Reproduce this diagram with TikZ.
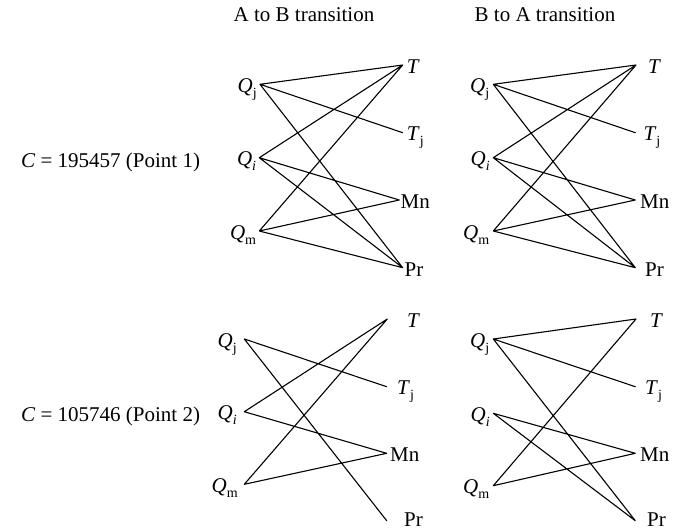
\documentclass[tikz,border=0pt]{standalone}
\usepackage{fontspec}
\setmainfont{Liberation Serif}
\newcommand\sbx[1]{\raisebox{-0.25em}{\fontsize{14}{14}\selectfont #1}}
\tikzset{
  txt/.style={inner sep=0pt, font=\fontsize{21}{25}\selectfont},
  rlbl/.style={txt, anchor=base west},
  qlbl/.style={txt, anchor=base east},
  hdr/.style={txt, anchor=base},
  rowlbl/.style={txt, anchor=base west},
  edge/.style={line width=1.1pt, line cap=round}
}
\begin{document}
\begin{tikzpicture}[x=1pt,y=-1pt]
\useasboundingbox (0,0) rectangle (673,530);
% headers
\node[hdr] (h1) at (304,21) {A to B transition};
\node[hdr] (h2) at (545,21) {B to A transition};
\node[rowlbl] (r1) at (21,167) {\textit{C} = 195457 (Point 1)};
\node[rowlbl] (r2) at (21,421) {\textit{C} = 105746 (Point 2)};
% ---------- panel a (top-left)
\coordinate (aQj) at (260,84.3);
\coordinate (aQi) at (259.3,157.7);
\coordinate (aQm) at (259.3,231);
\coordinate (aT)  at (402.7,65);
\coordinate (aTj) at (402.7,132.7);
\coordinate (aMn) at (399.3,200);
\coordinate (aPr) at (402.7,267.7);
\node[qlbl] (aQjL) at (257,92.3) {\textit{Q}\sbx{j}};
\node[qlbl] (aQiL) at (256.3,165.7) {\textit{Q}\sbx{\textit{i}}};
\node[qlbl] (aQmL) at (256.3,239) {\textit{Q}\sbx{m}};
\node[rlbl] (aTL)  at (406.7,73) {\textit{T}};
\node[rlbl] (aTjL) at (406.7,140.7) {\textit{T}\sbx{j}};
\node[rlbl] (aMnL) at (400.5,208) {Mn};
\node[rlbl] (aPrL) at (404.5,276) {Pr};
\draw[edge] (aQj) -- (aT) (aQj) -- (aTj) (aQj) -- (aPr)
            (aQi) -- (aT) (aQi) -- (aMn) (aQi) -- (aPr)
            (aQm) -- (aT) (aQm) -- (aMn) (aQm) -- (aPr);
% ---------- panel b (top-right)
\coordinate (bQj) at (493.3,84.3);
\coordinate (bQi) at (493.3,157.7);
\coordinate (bQm) at (493.3,231);
\coordinate (bT)  at (636,65);
\coordinate (bTj) at (635.3,132.7);
\coordinate (bMn) at (635.3,200);
\coordinate (bPr) at (635.3,267.7);
\node[qlbl] (bQjL) at (489.5,92.3) {\textit{Q}\sbx{j}};
\node[qlbl] (bQiL) at (490,165.7) {\textit{Q}\sbx{\textit{i}}};
\node[qlbl] (bQmL) at (489.5,239) {\textit{Q}\sbx{m}};
\node[rlbl] (bTL)  at (648,73) {\textit{T}};
\node[rlbl] (bTjL) at (643.3,140.7) {\textit{T}\sbx{j}};
\node[rlbl] (bMnL) at (640,208) {Mn};
\node[rlbl] (bPrL) at (645,276) {Pr};
\draw[edge] (bQj) -- (bT) (bQj) -- (bTj) (bQj) -- (bPr)
            (bQi) -- (bT) (bQi) -- (bMn) (bQi) -- (bPr)
            (bQm) -- (bT) (bQm) -- (bMn) (bQm) -- (bPr);
% ---------- panel c (bottom-left)
\coordinate (cQj) at (244.3,339);
\coordinate (cQi) at (244.3,411.7);
\coordinate (cQm) at (244.3,484.3);
\coordinate (cT)  at (387.3,319);
\coordinate (cTj) at (386.7,386.7);
\coordinate (cMn) at (386.7,453.3);
\coordinate (cPr) at (386.7,520.7);
\node[qlbl] (cQjL) at (237,347) {\textit{Q}\sbx{j}};
\node[qlbl] (cQiL) at (237,419.7) {\textit{Q}\sbx{\textit{i}}};
\node[qlbl] (cQmL) at (238,492.3) {\textit{Q}\sbx{m}};
\node[rlbl] (cTL)  at (407,327) {\textit{T}};
\node[rlbl] (cTjL) at (397,394.7) {\textit{T}\sbx{j}};
\node[rlbl] (cMnL) at (390,461.3) {Mn};
\node[rlbl] (cPrL) at (404,526) {Pr};
\draw[edge] (cQj) -- (cTj) (cQj) -- (cPr)
            (cQi) -- (cT) (cQi) -- (cMn)
            (cQm) -- (cT) (cQm) -- (cMn);
% ---------- panel d (bottom-right)
\coordinate (dQj) at (493.3,339);
\coordinate (dQi) at (493.3,413.3);
\coordinate (dQm) at (493.3,485.7);
\coordinate (dT)  at (636,319);
\coordinate (dTj) at (635.3,386.7);
\coordinate (dMn) at (635.3,453.3);
\coordinate (dPr) at (635.3,520.7);
\node[qlbl] (dQjL) at (489.5,347) {\textit{Q}\sbx{j}};
\node[qlbl] (dQiL) at (490,421.3) {\textit{Q}\sbx{\textit{i}}};
\node[qlbl] (dQmL) at (489.5,493.7) {\textit{Q}\sbx{m}};
\node[rlbl] (dTL)  at (650,327) {\textit{T}};
\node[rlbl] (dTjL) at (645,394.7) {\textit{T}\sbx{j}};
\node[rlbl] (dMnL) at (640,461.3) {Mn};
\node[rlbl] (dPrL) at (647,526) {Pr};
\draw[edge] (dQj) -- (dT) (dQj) -- (dTj) (dQj) -- (dPr)
            (dQi) -- (dMn) (dQi) -- (dPr)
            (dQm) -- (dT) (dQm) -- (dMn);
\end{tikzpicture}
\end{document}
